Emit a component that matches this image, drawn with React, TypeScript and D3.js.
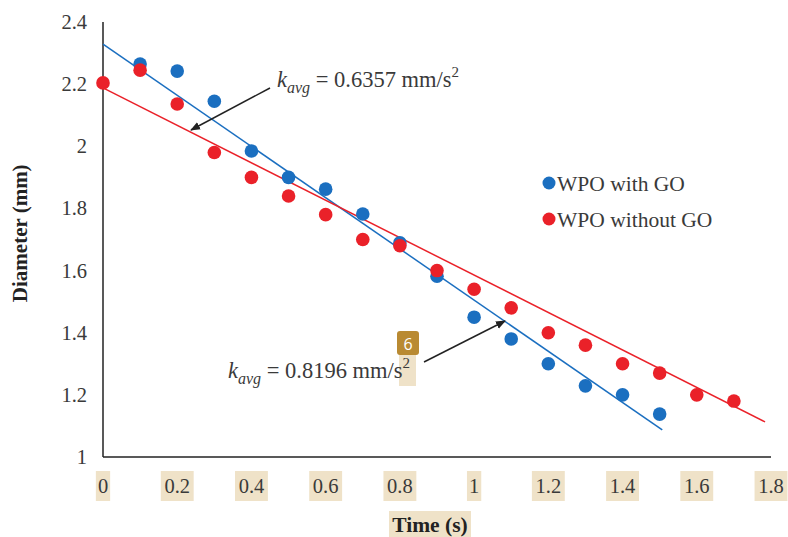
import React from "react";
import * as d3 from "d3";

const timeWith = [0.1, 0.2, 0.3, 0.4, 0.5, 0.6, 0.7, 0.8, 0.9, 1.0, 1.1, 1.2, 1.3, 1.4, 1.5];
const diamWith = [2.265, 2.242, 2.145, 1.985, 1.9, 1.862, 1.782, 1.689, 1.582, 1.45, 1.38, 1.3, 1.229, 1.2, 1.138];
const timeWithout = [0, 0.1, 0.2, 0.3, 0.4, 0.5, 0.6, 0.7, 0.8, 0.9, 1.0, 1.1, 1.2, 1.3, 1.4, 1.5, 1.6, 1.7];
const diamWithout = [2.204, 2.245, 2.136, 1.98, 1.9, 1.84, 1.78, 1.7, 1.68, 1.6, 1.54, 1.48, 1.4, 1.36, 1.3, 1.27, 1.2, 1.18];
const trendWithT = [0, 1.507];
const trendWithD = [2.329, 1.087];
const trendWithoutT = [0, 1.784];
const trendWithoutD = [2.188, 1.113];
const xTicks = [0, 0.2, 0.4, 0.6, 0.8, 1, 1.2, 1.4, 1.6, 1.8];
const yTicks = [1, 1.2, 1.4, 1.6, 1.8, 2, 2.2, 2.4];
const seriesNames = ["WPO with GO", "WPO without GO"];
const kValues = ["0.6357", "0.8196"];

const BLUE = "#1b6fc0";
const RED = "#ea2129";
const HL = "#efe2c8";
const TXT = "#3a3a3a";
const FONT = "'Liberation Serif', 'Times New Roman', serif";

export default function App() {
  const W = 788, H = 537;
  const x = d3.scaleLinear().domain([0, 1.8]).range([103, 771]);
  const y = d3.scaleLinear().domain([1, 2.4]).range([457, 22]);
  const line = d3.line<[number, number]>().x(d => x(d[0])).y(d => y(d[1]));
  const fmt = (v: number) => String(v);
  const charW = 9.3;

  return (
    <svg width={W} height={H} style={{ position: "absolute", left: 0, top: 0, background: "#fff" }} fontFamily={FONT}>
      <defs>
        <marker id="arr" viewBox="0 0 10 10" refX="9" refY="5" markerWidth="10" markerHeight="10" orient="auto" markerUnits="userSpaceOnUse">
          <path d="M0,1 L10,5 L0,9 z" fill="#222" />
        </marker>
      </defs>
      {/* axes */}
      <line x1={x(0)} x2={x(0)} y1={y(2.4)} y2={y(1)} stroke="#222" strokeWidth={1.5} />
      <line x1={x(0)} x2={x(1.8)} y1={y(1)} y2={y(1)} stroke="#222" strokeWidth={1.5} />
      {/* y ticks */}
      {yTicks.map(v => (
        <text key={v} x={87} y={y(v) + 7} textAnchor="end" fontSize={20.5} fill={TXT}>{fmt(v)}</text>
      ))}
      {/* x ticks with highlight */}
      {xTicks.map(v => {
        const s = fmt(v);
        const w = s.length * charW + 5;
        return (
          <g key={v}>
            <rect x={x(v) - w / 2} y={471} width={w} height={30} fill={HL} />
            <text x={x(v)} y={493} textAnchor="middle" fontSize={20.5} fill={TXT}>{s}</text>
          </g>
        );
      })}
      {/* axis titles */}
      <rect x={389} y={511} width={82} height={26} fill={HL} />
      <text x={430} y={532} textAnchor="middle" fontSize={21.5} fontWeight="bold" fill="#222">Time (s)</text>
      <text transform={`translate(27,${y(1.72)}) rotate(-90)`} textAnchor="middle" fontSize={21} fontWeight="bold" fill="#222">Diameter (mm)</text>
      {/* trend lines */}
      <path d={line(trendWithT.map((t, i) => [t, trendWithD[i]]) as [number, number][]) || ""} stroke={BLUE} strokeWidth={1.5} fill="none" />
      <path d={line(trendWithoutT.map((t, i) => [t, trendWithoutD[i]]) as [number, number][]) || ""} stroke={RED} strokeWidth={1.5} fill="none" />
      {/* points */}
      {timeWith.map((t, i) => (
        <circle key={"b" + i} cx={x(t)} cy={y(diamWith[i])} r={6.8} fill={BLUE} />
      ))}
      {timeWithout.map((t, i) => (
        <circle key={"r" + i} cx={x(t)} cy={y(diamWithout[i])} r={6.8} fill={RED} />
      ))}
      {/* legend */}
      <circle cx={549} cy={183} r={6.5} fill={BLUE} />
      <text x={557} y={191} fontSize={21.5} fill={TXT}>{seriesNames[0]}</text>
      <circle cx={549} cy={219} r={6.5} fill={RED} />
      <text x={557} y={227} fontSize={21.5} fill={TXT}>{seriesNames[1]}</text>
      {/* annotation 1 */}
      <line x1={270} y1={88} x2={191} y2={130} stroke="#222" strokeWidth={1.5} markerEnd="url(#arr)" />
      <text x={277} y={87} fontSize={22.5} fill={TXT}>
        <tspan fontStyle="italic">k</tspan>
        <tspan fontStyle="italic" fontSize={16} dy={6}>avg</tspan>
        <tspan dy={-6}>{` = ${kValues[0]} mm/s`}</tspan>
        <tspan fontSize={15} dy={-10}>2</tspan>
      </text>
      {/* annotation 2 */}
      <rect x={399} y={350} width={17} height={36} fill={HL} />
      <rect x={397} y={331} width={22} height={24} rx={3} fill="#b98a32" />
      <text x={408} y={350} textAnchor="middle" fontSize={16} fill="#fff" fontFamily="'Open Sans', sans-serif">6</text>
      <line x1={424} y1={362} x2={505} y2={321} stroke="#222" strokeWidth={1.5} markerEnd="url(#arr)" />
      <text x={228} y={378} fontSize={22.5} fill={TXT}>
        <tspan fontStyle="italic">k</tspan>
        <tspan fontStyle="italic" fontSize={16} dy={6}>avg</tspan>
        <tspan dy={-6}>{` = ${kValues[1]} mm/s`}</tspan>
        <tspan fontSize={15} dy={-10}>2</tspan>
      </text>
    </svg>
  );
}
